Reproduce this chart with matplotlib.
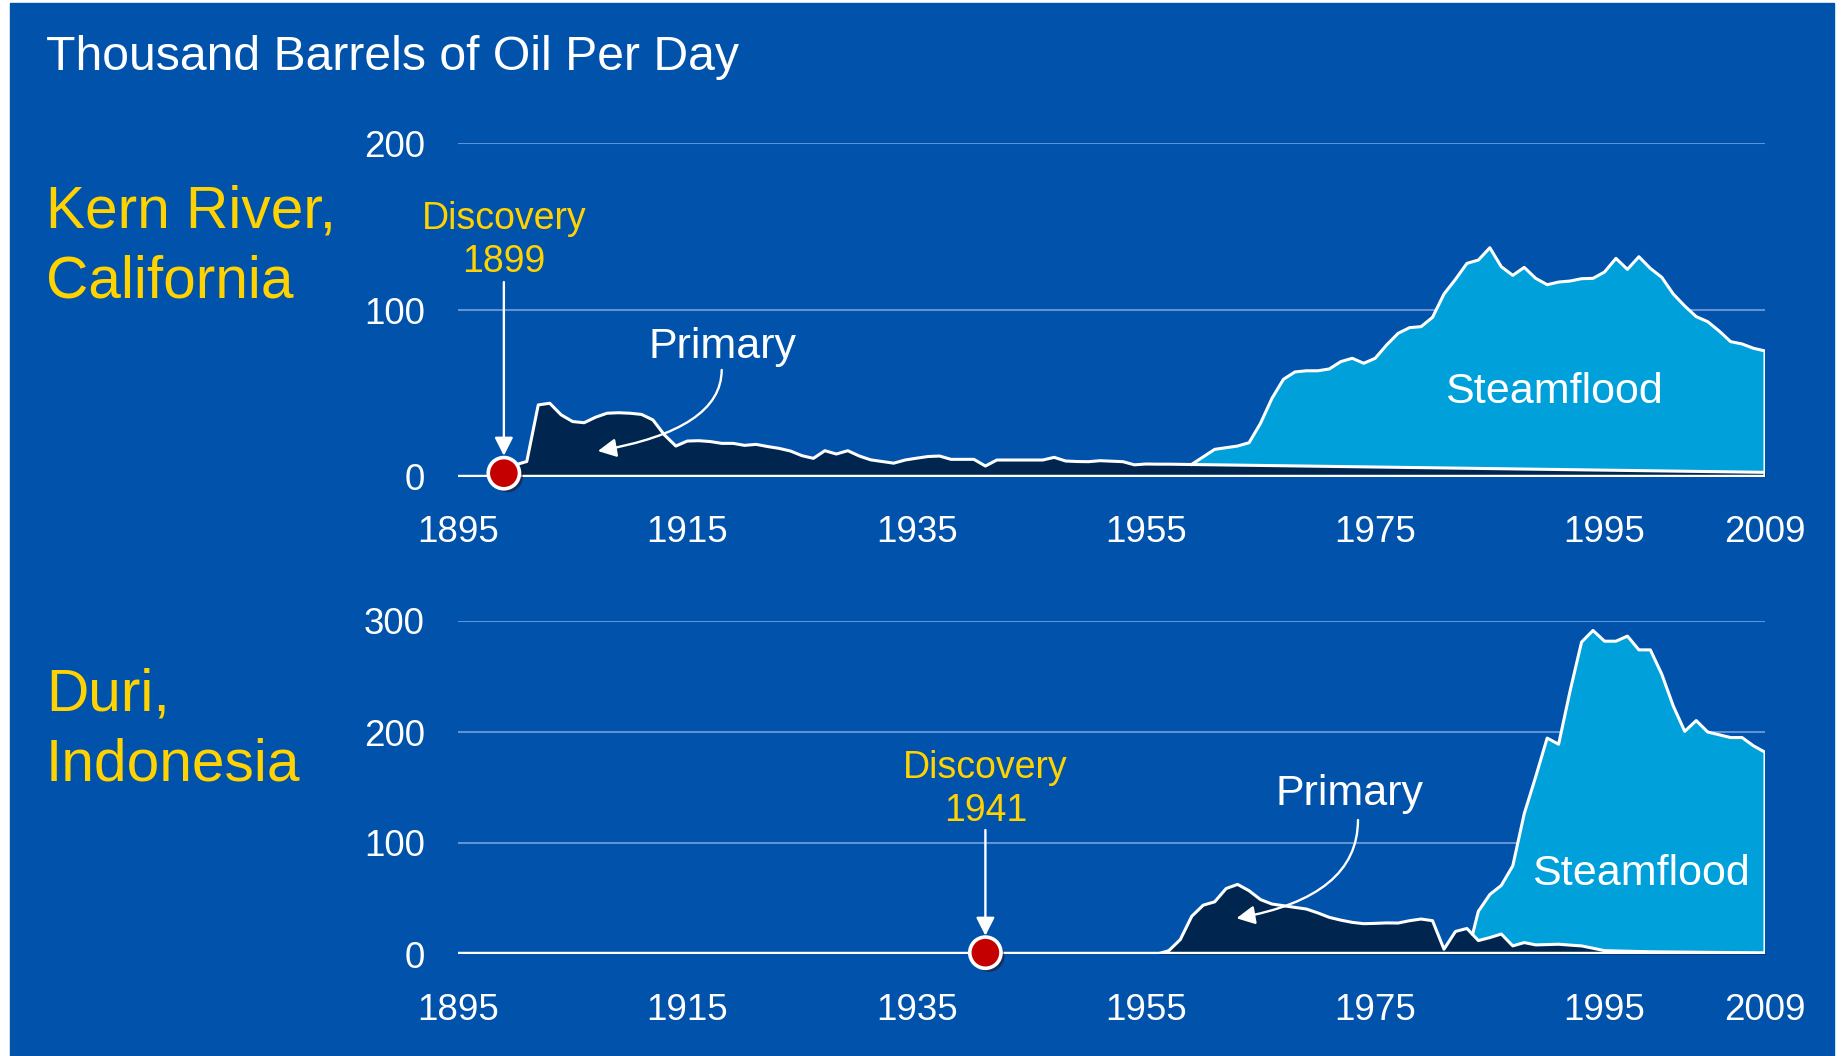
import matplotlib
matplotlib.use("Agg")
import matplotlib.pyplot as plt
import matplotlib.patheffects as pe
from matplotlib.patches import Rectangle

plt.rcParams['font.family'] = ['Liberation Sans', 'DejaVu Sans']

W, H = 1841, 1056

BG = '#0052aa'
NAVY = '#00264f'
STEAM = '#00a0da'
GRID = '#5f93d4'
YELLOW = '#ffd200'
RED = '#c40000'

# ---------------- data (thousand barrels of oil per day) ----------------
year_ticks = [1895, 1915, 1935, 1955, 1975, 1995, 2009]

# Kern River, California
kern_primary_years = [1899, 1900, 1901, 1902, 1903, 1904, 1905, 1906, 1907, 1908,
                      1909, 1910, 1911, 1912, 1913, 1914, 1915, 1916, 1917, 1918,
                      1919, 1920, 1921, 1922, 1923, 1924, 1925, 1926, 1927, 1928,
                      1929, 1930, 1931, 1932, 1933, 1934, 1935, 1936, 1937, 1938,
                      1939, 1940, 1941, 1942, 1943, 1944, 1945, 1946, 1947, 1948,
                      1949, 1950, 1951, 1952, 1953, 1954, 1955, 1956, 1957, 1958,
                      2009]
kern_primary = [3, 7, 9, 43, 44, 37, 33, 32.3, 35.6, 38,
                38.3, 38, 37.3, 34, 25, 18.3, 21.3, 21.5, 21, 19.9,
                19.9, 18.7, 19.3, 18, 16.9, 15.3, 12.5, 10.9, 15.5, 13.5,
                15.5, 12.3, 10, 9, 8, 9.9, 11, 12, 12.3, 10.3,
                10.3, 10.3, 6.3, 9.9, 9.9, 9.9, 9.9, 9.9, 11.5, 9.3,
                9, 8.9, 9.5, 9.2, 8.9, 7, 7.5, 7.4, 7.4, 7.3,
                2.5]
kern_steam_years = [1959, 1961, 1963, 1964, 1965, 1966, 1967, 1968, 1969, 1970,
                    1971, 1972, 1973, 1974, 1975, 1976, 1977, 1978, 1979, 1980,
                    1981, 1982, 1983, 1984, 1985, 1986, 1987, 1988, 1989, 1990,
                    1991, 1992, 1993, 1994, 1995, 1996, 1997, 1998, 1999, 2000,
                    2001, 2002, 2003, 2004, 2005, 2006, 2007, 2008, 2009]
kern_steam_total = [7.3, 16.3, 18.3, 20.3, 32, 47, 58.4, 62.8, 63.5, 63.5,
                    64.6, 69, 71, 68, 71, 79, 86, 89.4, 90, 95.6,
                    109.6, 118.4, 128, 130, 137.4, 126, 120.8, 125.6, 119, 115.2,
                    116.8, 117.4, 118.8, 119, 122.8, 131, 124.4, 132, 125, 119.6,
                    109.6, 102.4, 96, 93, 87.4, 81, 79.6, 77, 75.4]

# Duri, Indonesia
duri_primary_years = [1956, 1957, 1958, 1959, 1960, 1961, 1962, 1963, 1964, 1965,
                      1966, 1967, 1968, 1969, 1970, 1971, 1972, 1973, 1974, 1975,
                      1976, 1977, 1978, 1979, 1980, 1981, 1982, 1983, 1984, 1985,
                      1986, 1987, 1988, 1989, 1990, 1991, 1992, 1993, 1994, 1995,
                      1997, 1999, 2009]
duri_primary = [0, 3, 13, 34, 44, 47, 59, 62.7, 57, 49,
                45, 43.5, 42, 40.5, 37, 33, 30.5, 28.5, 27.3, 27.6,
                28, 27.9, 30, 31.5, 30, 4.3, 20.3, 23, 12.1, 14.8,
                18, 7.3, 10.3, 8.2, 8.5, 8.8, 8, 7.3, 5.2, 3,
                2.5, 2, 1]
duri_steam_years = [1983.5, 1984, 1985, 1986, 1987, 1988, 1989, 1990, 1991, 1992,
                    1993, 1994, 1995, 1996, 1997, 1998, 1999, 2000, 2001, 2002,
                    2003, 2004, 2005, 2006, 2007, 2008, 2009]
duri_steam_total = [18, 38.5, 53.6, 61.8, 79.4, 126.4, 159.7, 194.5, 189, 237,
                    281, 291.5, 281.8, 281.8, 286.4, 274, 274, 252, 223.4, 200.6,
                    210.3, 200, 197.5, 195, 195, 187.5, 181.8]

kern_discovery = 1899
duri_discovery = 1941


def fx(px):
    return px / W


def fy(py):
    return 1 - py / H


fig = plt.figure(figsize=(W / 100, H / 100), dpi=100, facecolor='white')
fig.patches.append(Rectangle((fx(10), 0), fx(1834 - 10), 1 - 3 / H,
                             transform=fig.transFigure, color=BG, zorder=-10))

arrow_kw = dict(arrowstyle='-|>,head_length=0.55,head_width=0.28', color='white',
                lw=1.7, shrinkA=0, shrinkB=0, mutation_scale=20)


def draw_field(ax, p_years, p_vals, s_years, s_vals, ymax, step):
    ax.set_xlim(1895, 2009)
    ax.set_ylim(0, ymax)
    ax.set_facecolor('none')
    for s in ax.spines.values():
        s.set_visible(False)
    for v in range(step, ymax + 1, step):
        ax.axhline(v, color=GRID, lw=1.5, zorder=0.5)

    ax.fill_between(p_years, 0, p_vals, color=NAVY, lw=0, zorder=1)
    # steamflood sits on top of the primary decline
    bx = [y for y in p_years if y > s_years[0]]
    by = [v for y, v in zip(p_years, p_vals) if y > s_years[0]]
    ax.fill(list(s_years) + bx[::-1], list(s_vals) + by[::-1],
            color=STEAM, lw=0, zorder=2)

    ax.plot(p_years, p_vals, color='white', lw=2.2, zorder=3,
            solid_joinstyle='round')
    ax.plot(list(s_years) + [s_years[-1]], list(s_vals) + [0], color='white',
            lw=2.2, zorder=3, solid_joinstyle='round')
    ax.axhline(0, color='white', lw=3.2, zorder=4)

    ax.set_xticks(year_ticks)
    ax.set_yticks(range(0, ymax + 1, step))
    ax.tick_params(axis='x', length=0, labelcolor='white', labelsize=26.5, pad=28)
    ax.tick_params(axis='y', length=0, labelcolor='white', labelsize=26.5, pad=24)


def discovery(ax, year, start, tip, dot_y, y1, y2):
    ax.annotate('', xy=(year, tip), xytext=(year, start), arrowprops=arrow_kw,
                zorder=6)
    ax.plot([year], [dot_y], 'o', ms=22.5, mfc=RED, mec='white', mew=2.6,
            clip_on=False, zorder=7,
            path_effects=[pe.SimplePatchShadow(offset=(2.5, -2.5), alpha=0.45),
                          pe.Normal()])
    ax.text(year, y1, 'Discovery', color=YELLOW, fontsize=27, ha='center',
            va='baseline')
    ax.text(year, y2, str(year), color=YELLOW, fontsize=27, ha='center',
            va='baseline')


# ---- Kern River ----
ax1 = fig.add_axes([fx(458), fy(476.5), fx(1765 - 458), 333 / H])
draw_field(ax1, kern_primary_years, kern_primary, kern_steam_years,
           kern_steam_total, 200, 100)
discovery(ax1, kern_discovery, 116.8, 12.5, 2, 148.9, 122.8)
ax1.text(1918.1, 71, 'Primary', color='white', fontsize=31, ha='center', va='baseline')
ax1.annotate('', xy=(1907.2, 15.3), xytext=(1918.0, 64),
             arrowprops=dict(arrow_kw, connectionstyle='angle3,angleA=90,angleB=10'))
ax1.text(1990.6, 44.3, 'Steamflood', color='white', fontsize=31, ha='center',
         va='baseline', zorder=8)

# ---- Duri ----
ax2 = fig.add_axes([fx(458), fy(954), fx(1765 - 458), 333 / H])
draw_field(ax2, duri_primary_years, duri_primary, duri_steam_years,
           duri_steam_total, 300, 100)
discovery(ax2, duri_discovery, 111.7, 16.5, 1.2, 158.3, 120.1)
ax2.text(1972.8, 134.2, 'Primary', color='white', fontsize=31, ha='center', va='baseline')
ax2.annotate('', xy=(1962.9, 32.2), xytext=(1973.5, 120.7),
             arrowprops=dict(arrow_kw, connectionstyle='angle3,angleA=90,angleB=10'),
             zorder=6)
ax2.text(1998.2, 62.2, 'Steamflood', color='white', fontsize=31, ha='center',
         va='baseline', zorder=8)

# ---- headings ----
fig.text(fx(46), fy(70), 'Thousand Barrels of Oil Per Day', color='white',
         fontsize=34.7, va='baseline')
fig.text(fx(46), fy(227.5), 'Kern River,', color=YELLOW, fontsize=42.2, va='baseline')
fig.text(fx(46), fy(298), 'California', color=YELLOW, fontsize=42.2, va='baseline')
fig.text(fx(46), fy(710.7), 'Duri,', color=YELLOW, fontsize=42.2, va='baseline')
fig.text(fx(46), fy(780.7), 'Indonesia', color=YELLOW, fontsize=42.2, va='baseline')

fig.savefig('out.png', dpi=100, facecolor=fig.get_facecolor())
